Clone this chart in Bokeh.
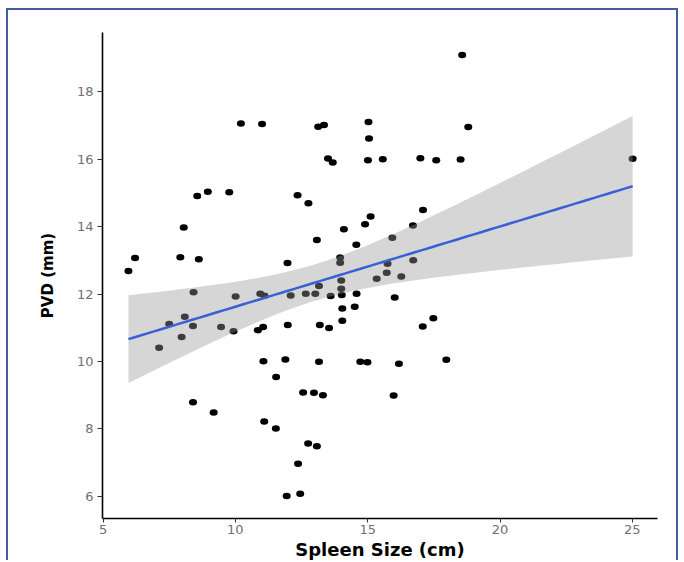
import numpy as np
from bokeh.plotting import figure
from bokeh.models import Range1d, FixedTicker
from bokeh.embed import file_html
from bokeh.resources import INLINE

# Spleen size (cm) and portal vein diameter (mm)
spleen_cm = [5.96, 6.21, 7.12, 7.50, 7.92, 7.97, 8.05, 8.09, 8.40, 8.42,
             8.40, 8.56, 8.62, 8.96, 9.18, 9.46, 9.77, 9.93, 10.01, 10.21,
             10.85, 10.94, 11.01, 11.05, 11.06, 11.09, 11.10, 11.53, 11.54, 11.89,
             11.94, 11.97, 11.98, 12.09, 12.35, 12.37, 12.45, 12.56, 12.66, 12.75,
             12.76, 12.97, 13.02, 13.08, 13.08, 13.13, 13.16, 13.16, 13.19, 13.31,
             13.35, 13.50, 13.54, 13.60, 13.68, 13.96, 13.96, 14.00, 14.00, 14.02,
             14.04, 14.04, 14.10, 14.51, 14.57, 14.58, 14.72, 14.90, 14.99, 15.01,
             15.03, 15.05, 15.11, 15.34, 15.57, 15.72, 15.75, 15.93, 15.98, 16.02,
             16.18, 16.27, 16.71, 16.72, 16.99, 17.08, 17.09, 17.48, 17.59, 17.97,
             18.51, 18.57, 18.80, 25.01]
pvd_mm = [12.68, 13.07, 10.41, 11.11, 13.09, 10.73, 13.97, 11.33, 11.05, 12.05,
          8.79, 14.91, 13.03, 15.03, 8.49, 11.02, 15.02, 10.90, 11.93, 17.06,
          10.93, 12.01, 17.04, 11.02, 10.01, 8.22, 11.95, 8.01, 9.54, 10.06,
          6.01, 12.92, 11.08, 11.96, 14.93, 6.97, 6.08, 9.08, 12.01, 7.57,
          14.69, 9.07, 12.01, 7.49, 13.60, 16.96, 12.24, 9.99, 11.08, 9.00,
          17.01, 16.02, 10.99, 11.94, 15.90, 13.08, 12.93, 12.40, 12.16, 11.97,
          11.57, 11.21, 13.92, 11.62, 13.46, 12.01, 9.99, 14.07, 9.98, 15.97,
          17.10, 16.61, 14.30, 12.45, 16.00, 12.63, 12.90, 13.67, 8.99, 11.90,
          9.93, 12.52, 14.03, 13.00, 16.03, 11.04, 14.49, 11.28, 15.97, 10.05,
          15.99, 19.09, 16.95, 16.01]

x_ticks = [5, 10, 15, 20, 25]
y_ticks = [6, 8, 10, 12, 14, 16, 18]

# linear model fit with 95% confidence band (as geom_smooth(method="lm"))
x = np.array(spleen_cm)
y = np.array(pvd_mm)
n = len(x)
slope, intercept = np.polyfit(x, y, 1)
xs = np.linspace(x.min(), x.max(), 80)
fit = intercept + slope * xs
resid = y - (intercept + slope * x)
s = np.sqrt(np.sum(resid ** 2) / (n - 2))
sxx = np.sum((x - x.mean()) ** 2)
t_crit = 1.986
se = s * np.sqrt(1.0 / n + (xs - x.mean()) ** 2 / sxx)
lower = fit - t_crit * se
upper = fit + t_crit * se

p = figure(width=672, height=552,
           x_range=Range1d(4.98, 25.95), y_range=Range1d(5.345, 19.755),
           output_backend="svg", toolbar_location=None,
           min_border_left=94, min_border_right=23,
           min_border_top=22, min_border_bottom=44)
p.styles = {"margin-left": "6px", "margin-top": "8px",
            "border-top": "2px solid #3f5f9f",
            "border-left": "2px solid #3f5f9f",
            "border-right": "2px solid #3f5f9f"}
p.grid.visible = False
p.outline_line_color = None
p.background_fill_color = "white"
p.border_fill_color = "white"

p.ellipse(x=spleen_cm, y=pvd_mm, width=8, height=6.5,
          width_units="screen", height_units="screen",
          fill_color="black", line_color=None)
p.varea(x=xs, y1=lower, y2=upper, fill_color="#999999", fill_alpha=0.4)
p.line(xs, fit, line_color="#3a5fd6", line_width=2.5)

p.xaxis.ticker = FixedTicker(ticks=x_ticks)
p.yaxis.ticker = FixedTicker(ticks=y_ticks)
for ax in (p.xaxis[0], p.yaxis[0]):
    ax.minor_tick_line_color = None
    ax.major_tick_in = 0
    ax.major_tick_line_color = "#333333"
    ax.axis_line_color = "black"
    ax.axis_line_width = 1.6
    ax.major_label_text_font = "DejaVu Sans"
    ax.major_label_text_font_size = "13px"
    ax.major_label_text_color = "#707070"
    ax.axis_label_text_font = "DejaVu Sans"
    ax.axis_label_text_font_style = "bold"
    ax.axis_label_text_color = "black"

p.yaxis.major_tick_out = 5
p.yaxis.major_label_standoff = 4
p.xaxis.major_tick_out = 4
p.xaxis.major_label_standoff = 2

p.yaxis.axis_label = "PVD (mm)"
p.yaxis.axis_label_text_font_size = "15px"
p.yaxis.axis_label_standoff = 17

p.xaxis.axis_label = "Spleen Size (cm)"
p.xaxis.axis_label_text_font_size = "18px"
p.xaxis.axis_label_standoff = 2

open("out.html", "w").write(file_html(p, INLINE))
